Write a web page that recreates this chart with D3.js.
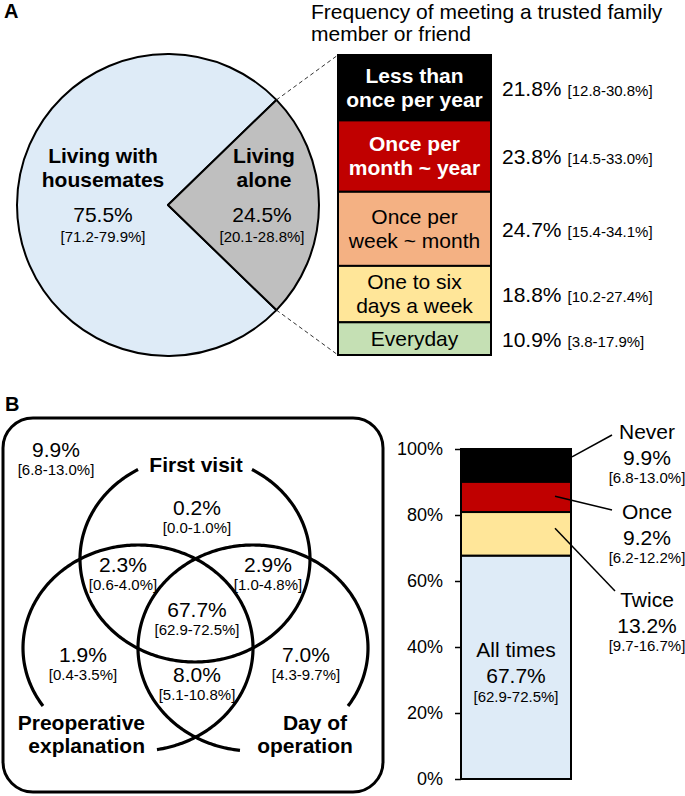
<!DOCTYPE html>
<html>
<head>
<meta charset="utf-8">
<script src="https://cdn.jsdelivr.net/npm/d3@7"></script>
<style>
  html, body { margin: 0; padding: 0; background: #fff; }
  svg { display: block; font-family: "Liberation Sans", Arial, sans-serif; }
</style>
</head>
<body>
<svg id="chart" width="685" height="796"></svg>
<script>
// ---------- DATA ----------
const pieCategories = ["Living with housemates", "Living alone"];
const pieLabelLines = [["Living with", "housemates"], ["Living", "alone"]];
const pieValues = [75.5, 24.5];
const pieLow = [71.2, 20.1];
const pieHigh = [79.9, 28.8];

const freqTitle = ["Frequency of meeting a trusted family", "member or friend"];
const freqCategories = ["Less than once per year", "Once per month ~ year", "Once per week ~ month", "One to six days a week", "Everyday"];
const freqLabelLines = [["Less than", "once per year"], ["Once per", "month ~ year"], ["Once per", "week ~ month"], ["One to six", "days a week"], ["Everyday"]];
const freqValues = [21.8, 23.8, 24.7, 18.8, 10.9];
const freqLow = [12.8, 14.5, 15.4, 10.2, 3.8];
const freqHigh = [30.8, 33.0, 34.1, 27.4, 17.9];

const vennSets = ["First visit", "Preoperative explanation", "Day of operation"];
const vennSetLines = [["First visit"], ["Preoperative", "explanation"], ["Day of", "operation"]];
const vennRegions = ["None", "First visit only", "First visit & Preoperative", "First visit & Day of operation", "All three", "Preoperative only", "Preoperative & Day of operation", "Day of operation only"];
const vennValues = [9.9, 0.2, 2.3, 2.9, 67.7, 1.9, 8.0, 7.0];
const vennLow = [6.8, 0.0, 0.6, 1.0, 62.9, 0.4, 5.1, 4.3];
const vennHigh = [13.0, 1.0, 4.0, 4.8, 72.5, 3.5, 10.8, 9.7];

const attendCategories = ["All times", "Twice", "Once", "Never"];
const attendValues = [67.7, 13.2, 9.2, 9.9];
const attendLow = [62.9, 9.7, 6.2, 6.8];
const attendHigh = [72.5, 16.7, 12.2, 13.0];
const attendTicks = [0, 20, 40, 60, 80, 100];

// ---------- STYLE / LAYOUT ----------
const FONT_BIG = 21, FONT_CI = 15;
const f1 = d3.format(".1f");
const pct = v => f1(v) + "%";
const ci = (l, h) => "[" + f1(l) + "-" + f1(h) + "%]";
const svg = d3.select("#chart");

// panel letters
svg.append("text").attr("x", 4).attr("y", 18).attr("font-size", 20).attr("font-weight", "bold").text("A");
svg.append("text").attr("x", 5).attr("y", 411).attr("font-size", 20).attr("font-weight", "bold").text("B");

// ---------- PANEL A: PIE ----------
const pieCx = 168, pieCy = 205, pieR = 151;
const pieColors = ["#deebf7", "#bfbfbf"];
const pieStart = Math.PI / 2 + (pieValues[1] / 100) * Math.PI;
const pie = d3.pie().sort(null).startAngle(pieStart).endAngle(pieStart + 2 * Math.PI);
const arcs = pie(pieValues);
const arcGen = d3.arc().innerRadius(0).outerRadius(pieR);
const gPie = svg.append("g").attr("transform", `translate(${pieCx},${pieCy})`);
gPie.selectAll("path").data(arcs).join("path")
  .attr("d", arcGen).attr("fill", (d, i) => pieColors[i])
  .attr("stroke", "#000").attr("stroke-width", 2).attr("stroke-linejoin", "round");

const pieLabelX = [103 - pieCx, 264 - pieCx];
arcs.forEach((a, i) => {
  pieLabelLines[i].forEach((ln, k) => {
    gPie.append("text").attr("text-anchor", "middle").attr("font-size", FONT_BIG).attr("font-weight", "bold")
      .attr("x", pieLabelX[i]).attr("y", 163 - pieCy + k * 24).text(ln);
  });
  gPie.append("text").attr("text-anchor", "middle").attr("font-size", FONT_BIG)
    .attr("x", pieLabelX[i] - (i ? 2 : 0)).attr("y", 222 - pieCy).text(pct(pieValues[i]));
  gPie.append("text").attr("text-anchor", "middle").attr("font-size", FONT_CI)
    .attr("x", pieLabelX[i] - (i ? 2 : 0)).attr("y", 242 - pieCy).text(ci(pieLow[i], pieHigh[i]));
});

// ---------- PANEL A: STACKED BAR ----------
const barAx0 = 338, barAx1 = 491;
const yA = d3.scaleLinear().domain([0, 100]).range([55, 355]);
let cumA = 0;
const segsA = freqValues.map((v, i) => { const s = { i, v, y0: cumA, y1: cumA + v }; cumA += v; return s; });
const freqColors = ["#000000", "#c00000", "#f4b183", "#ffe699", "#c5e0b4"];
const freqText = ["#fff", "#fff", "#000", "#000", "#000"];
const freqBold = [true, true, false, false, false];

// dashed connectors from the "Living alone" slice edges to the bar
const aliveArc = arcs[1];
[aliveArc.startAngle, aliveArc.endAngle].forEach((ang, k) => {
  const px = pieCx + pieR * Math.sin(ang), py = pieCy - pieR * Math.cos(ang);
  svg.append("line").attr("x1", px).attr("y1", py)
    .attr("x2", barAx0).attr("y2", yA(k === 0 ? 0 : 100))
    .attr("stroke", "#333").attr("stroke-width", 1).attr("stroke-dasharray", "4,3");
});

svg.append("g").selectAll("text").data(freqTitle).join("text")
  .attr("x", 311).attr("y", (d, i) => 19 + i * 22).attr("font-size", FONT_BIG).text(d => d);

const gA = svg.append("g");
gA.selectAll("rect").data(segsA).join("rect")
  .attr("x", barAx0).attr("width", barAx1 - barAx0)
  .attr("y", d => yA(d.y0)).attr("height", d => yA(d.y1) - yA(d.y0))
  .attr("fill", d => freqColors[d.i]).attr("stroke", "#000").attr("stroke-width", 2);

segsA.forEach(s => {
  const cy = (yA(s.y0) + yA(s.y1)) / 2;
  const lines = freqLabelLines[s.i];
  lines.forEach((ln, k) => {
    const yy = lines.length === 1 ? cy + 7 : cy - 5 + k * 24;
    gA.append("text").attr("x", (barAx0 + barAx1) / 2).attr("y", yy)
      .attr("text-anchor", "middle").attr("font-size", FONT_BIG)
      .attr("font-weight", freqBold[s.i] ? "bold" : "normal")
      .attr("fill", freqText[s.i]).text(ln);
  });
  const t = gA.append("text").attr("x", 502).attr("y", cy + 8).attr("font-size", FONT_BIG);
  t.append("tspan").text(pct(s.v));
  t.append("tspan").attr("dx", 6).attr("font-size", FONT_CI).text(ci(freqLow[s.i], freqHigh[s.i]));
});

// ---------- PANEL B: VENN ----------
svg.append("rect").attr("x", 3).attr("y", 418).attr("width", 380).attr("height", 374)
  .attr("rx", 30).attr("ry", 30).attr("fill", "none").attr("stroke", "#000").attr("stroke-width", 3);

const deg = Math.PI / 180;
const vennShapes = [
  { cx: 195, cy: 559, rx: 115, ry: 103, a0: 29.7, a1: 330.3 },
  { cx: 138, cy: 648, rx: 115, ry: 103, a0: 235.7, a1: 530.5 },
  { cx: 253, cy: 648, rx: 115, ry: 103, a0: 186.5, a1: 484.3 }
];
const ellLine = d3.line().x(d => d[0]).y(d => d[1]);
vennShapes.forEach(e => {
  const n = Math.ceil(e.a1 - e.a0);
  const pts = d3.range(n + 1).map(k => {
    const a = (e.a0 + (e.a1 - e.a0) * k / n) * deg;
    return [e.cx + e.rx * Math.sin(a), e.cy - e.ry * Math.cos(a)];
  });
  svg.append("path").attr("d", ellLine(pts)).attr("fill", "none")
    .attr("stroke", "#000").attr("stroke-width", 3.2);
});

const setLabelPos = [
  [{ x: 196, y: 472, a: "middle" }],
  [{ x: 145, y: 730, a: "end" }, { x: 145, y: 753, a: "end" }],
  [{ x: 315, y: 730, a: "middle" }, { x: 305, y: 753, a: "middle" }]
];
vennSetLines.forEach((lines, i) => {
  lines.forEach((ln, k) => {
    const p = setLabelPos[i][k];
    svg.append("text").attr("x", p.x).attr("y", p.y).attr("text-anchor", p.a)
      .attr("font-size", FONT_BIG).attr("font-weight", "bold").text(ln);
  });
});

const regionPos = [[56, 457], [197, 515], [123, 572], [268, 572], [197, 617], [83, 662], [197, 682], [306, 662]];
vennValues.forEach((v, i) => {
  const [x, y] = regionPos[i];
  svg.append("text").attr("x", x).attr("y", y).attr("text-anchor", "middle").attr("font-size", FONT_BIG).text(pct(v));
  svg.append("text").attr("x", x).attr("y", y + 18).attr("text-anchor", "middle").attr("font-size", FONT_CI).text(ci(vennLow[i], vennHigh[i]));
});

// ---------- PANEL B: STACKED BAR ----------
const barBx0 = 461, barBx1 = 571;
const yB = d3.scaleLinear().domain([0, 100]).range([779, 449]);
let cumB = 0;
const segsB = attendValues.map((v, i) => { const s = { i, v, y0: cumB, y1: cumB + v }; cumB += v; return s; });
const attendColors = ["#deebf7", "#ffe699", "#c00000", "#000000"];

const axisB = d3.axisLeft(yB).tickValues(attendTicks).tickFormat(d => d + "%").tickSize(6).tickPadding(12);
const gAx = svg.append("g").attr("transform", `translate(${barBx0},0)`).call(axisB);
gAx.select(".domain").remove();
gAx.selectAll(".tick line").attr("stroke", "#000").attr("stroke-width", 1.5);
gAx.selectAll(".tick text").attr("font-size", 18).attr("font-family", "Liberation Sans, Arial, sans-serif").attr("fill", "#000");

svg.append("g").selectAll("rect").data(segsB).join("rect")
  .attr("x", barBx0).attr("width", barBx1 - barBx0)
  .attr("y", d => yB(d.y1)).attr("height", d => yB(d.y0) - yB(d.y1))
  .attr("fill", d => attendColors[d.i]).attr("stroke", "#000").attr("stroke-width", 2);

// inside label for "All times"
const s0 = segsB[0];
const inX = (barBx0 + barBx1) / 2;
svg.append("text").attr("x", inX).attr("y", 657).attr("text-anchor", "middle").attr("font-size", FONT_BIG).text(attendCategories[0]);
svg.append("text").attr("x", inX).attr("y", 683).attr("text-anchor", "middle").attr("font-size", FONT_BIG).text(pct(s0.v));
svg.append("text").attr("x", inX).attr("y", 702).attr("text-anchor", "middle").attr("font-size", FONT_CI).text(ci(attendLow[0], attendHigh[0]));

// callouts for the others
const callout = {
  3: { labelY: 439, lx0: 572, ly0v: 97.6, lx1: 612, ly1: 435 },
  2: { labelY: 519, lx0: 555, ly0v: 85.7, lx1: 612, ly1: 510 },
  1: { labelY: 607, lx0: 555, ly0v: 76.0, lx1: 615, ly1: 591 }
};
[3, 2, 1].forEach(i => {
  const c = callout[i];
  svg.append("line").attr("x1", c.lx0).attr("y1", yB(c.ly0v)).attr("x2", c.lx1).attr("y2", c.ly1)
    .attr("stroke", "#000").attr("stroke-width", 1.5);
  svg.append("text").attr("x", 647).attr("y", c.labelY).attr("text-anchor", "middle").attr("font-size", FONT_BIG).text(attendCategories[i]);
  svg.append("text").attr("x", 647).attr("y", c.labelY + 26).attr("text-anchor", "middle").attr("font-size", FONT_BIG).text(pct(attendValues[i]));
  svg.append("text").attr("x", 647).attr("y", c.labelY + 44).attr("text-anchor", "middle").attr("font-size", FONT_CI).text(ci(attendLow[i], attendHigh[i]));
});
</script>
</body>
</html>
